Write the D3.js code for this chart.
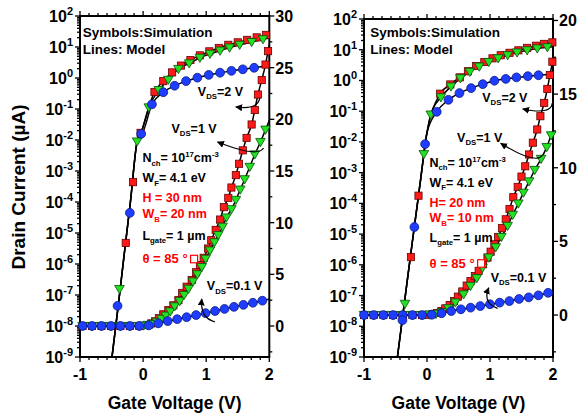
<!DOCTYPE html>
<html><head><meta charset="utf-8">
<script src="https://cdn.jsdelivr.net/npm/d3@7"></script>
<style>
body{margin:0;background:#fff}
svg{display:block}
text{font-family:"Liberation Sans",Arial,sans-serif;font-weight:bold}
</style>
</head><body>
<svg id="c" width="584" height="417"></svg>
<script>
// ---------- shared axis data ----------
const xTicks = [-1, 0, 1, 2];
const logTickExps = [-9, -8, -7, -6, -5, -4, -3, -2, -1, 0, 1, 2];
const linTicksLeft = [0, 5, 10, 15, 20, 25, 30];
const linTicksRight = [0, 5, 10, 15, 20];

// ---------- left panel (H = 30 nm, WB = 20 nm) ----------
// log curves: [Vg, log10(I / uA)]
const p1SubLog = [[-0.52,-9.45],[-0.40,-7.45],[-0.30,-5.7],[-0.20,-3.98],[-0.095,-2.05],[-0.035,-1.78]];
const p1LogRed = [[-0.275,-5.32],[-0.16,-3.36],[-0.04,-1.77],[0.18,-0.45],[0.32,-0.10],[0.46,0.18],[0.60,0.40],[0.75,0.58],[0.90,0.73],[1.05,0.86],[1.20,0.97],[1.35,1.07],[1.50,1.15],[1.65,1.23],[1.80,1.31],[1.95,1.39]];
const p1LogGreen = [[-0.375,-6.81],[-0.095,-2.05],[0.09,-0.95],[0.25,-0.39],[0.40,-0.06],[0.56,0.29],[0.73,0.47],[0.90,0.65],[1.06,0.78],[1.22,0.88],[1.37,0.98],[1.53,1.07],[1.72,1.16],[1.90,1.25]];
const p1LogBlue = [[-0.405,-7.35],[-0.21,-4.35],[-0.03,-1.80],[0.14,-0.85],[0.32,-0.46],[0.50,-0.25],[0.68,-0.10],[0.86,0.01],[1.04,0.10],[1.22,0.17],[1.40,0.23],[1.58,0.28],[1.76,0.33]];
const p1LogEnd = [1.43, 1.29, 0.40];           // model value at Vg = 2 V (red, green, blue)
// linear curves: [Vg, I (uA)] on the right axis
const p1LinRed = [[-0.96,0],[-0.81,0],[-0.66,0],[-0.51,0],[-0.36,0],[-0.21,0],[-0.06,0],[0.06,0.1],[0.13,0.25],[0.19,0.45],[0.25,0.75],[0.32,1.13],[0.40,1.55],[0.48,2.0],[0.56,2.5],[0.62,3.2],[0.69,3.8],[0.77,4.45],[0.84,5.2],[0.90,5.9],[0.96,6.6],[1.03,7.5],[1.08,8.3],[1.15,9.3],[1.22,10.3],[1.28,11.5],[1.35,12.4],[1.40,13.4],[1.47,14.6],[1.52,15.7],[1.58,17.0],[1.64,18.2],[1.72,19.5],[1.77,20.9],[1.82,22.4],[1.88,23.8],[1.94,25.3],[1.98,26.6]];
const p1LinGreen = [[-0.96,0],[-0.81,0],[-0.66,0],[-0.51,0],[-0.36,0],[-0.21,0],[-0.06,0],[0.01,0.04],[0.08,0.1],[0.15,0.2],[0.22,0.4],[0.29,0.7],[0.36,1.0],[0.43,1.4],[0.50,1.9],[0.58,2.4],[0.65,3.0],[0.72,3.6],[0.79,4.3],[0.86,5.0],[0.93,5.7],[0.99,6.5],[1.06,7.3],[1.13,8.1],[1.19,8.8],[1.26,9.6],[1.32,10.5],[1.40,11.3],[1.47,12.2],[1.54,13.2],[1.61,14.2],[1.69,15.4],[1.77,16.6],[1.86,17.8],[1.94,19.0]];
const p1LinBlue = [[-0.96,0],[-0.81,0],[-0.66,0],[-0.51,0],[-0.36,0],[-0.21,0],[-0.06,0],[0.09,0.06],[0.24,0.26],[0.39,0.48],[0.54,0.66],[0.69,0.85],[0.84,1.06],[0.99,1.24],[1.14,1.45],[1.29,1.65],[1.44,1.85],[1.59,2.05],[1.74,2.25],[1.89,2.45]];
const p1LinEnd = [27.2, 19.9, 2.6];

// ---------- right panel (H = 20 nm, WB = 10 nm) ----------
const p2SubLog = [[-0.52,-9.8],[-0.40,-7.9],[-0.30,-6.3],[-0.20,-4.75],[-0.10,-3.2],[-0.05,-2.4],[-0.03,-2.07],[0.0,-1.7]];
const p2LogRed = [[-0.255,-5.75],[-0.135,-3.75],[0.21,-0.43],[0.37,-0.13],[0.52,0.10],[0.65,0.30],[0.78,0.47],[0.91,0.60],[1.04,0.72],[1.17,0.82],[1.31,0.90],[1.45,0.98],[1.59,1.06],[1.73,1.13],[1.86,1.19],[1.99,1.24]];
const p2LogGreen = [[-0.35,-7.27],[-0.05,-2.4],[0.06,-1.11],[0.22,-0.55],[0.38,-0.20],[0.53,0.07],[0.68,0.28],[0.83,0.45],[0.98,0.60],[1.13,0.72],[1.28,0.82],[1.43,0.91],[1.59,0.98],[1.75,1.04],[1.91,1.08]];
const p2LogBlue = [[-0.39,-7.8],[-0.20,-4.77],[-0.03,-2.07],[0.155,-1.02],[0.34,-0.63],[0.515,-0.41],[0.70,-0.25],[0.885,-0.12],[1.07,-0.01],[1.25,0.05],[1.42,0.10],[1.60,0.14],[1.77,0.17]];
const p2LogEnd = [1.25, 1.10, 0.20];
const p2LinRed = [[-1.0,0],[-0.846,0],[-0.692,0],[-0.538,0],[-0.385,0],[-0.231,0],[-0.077,0],[0.03,0.02],[0.09,0.06],[0.16,0.14],[0.23,0.27],[0.29,0.45],[0.36,0.68],[0.43,0.95],[0.49,1.25],[0.56,1.6],[0.63,2.0],[0.69,2.3],[0.76,2.65],[0.82,3.0],[0.89,3.45],[0.96,3.9],[1.01,4.3],[1.07,4.8],[1.13,5.3],[1.19,5.9],[1.25,6.5],[1.31,7.2],[1.37,8.0],[1.44,8.7],[1.50,9.4],[1.56,10.1],[1.62,10.9],[1.68,11.7],[1.75,12.6],[1.80,13.5],[1.86,14.4],[1.91,15.35],[1.95,16.3],[1.99,17.2]];
const p2LinGreen = [[-1.0,0],[-0.846,0],[-0.692,0],[-0.538,0],[-0.385,0],[-0.231,0],[-0.077,0],[0.04,0.03],[0.14,0.08],[0.24,0.2],[0.34,0.45],[0.45,0.85],[0.58,1.4],[0.69,1.97],[0.79,2.5],[0.88,3.2],[0.98,3.9],[1.09,4.6],[1.18,5.3],[1.28,6.05],[1.36,6.8],[1.45,7.57],[1.53,8.3],[1.62,9.07],[1.71,9.85],[1.81,10.6],[1.90,11.4],[1.97,12.2]];
const p2LinBlue = [[-1.0,0],[-0.846,0],[-0.692,0],[-0.538,0],[-0.385,0],[-0.231,0],[-0.077,0],[0.077,0.02],[0.231,0.12],[0.385,0.27],[0.538,0.39],[0.692,0.5],[0.846,0.61],[1.0,0.73],[1.154,0.84],[1.308,0.95],[1.462,1.09],[1.615,1.2],[1.769,1.34],[1.923,1.51]];
const p2LinEnd = [17.6, 12.5, 1.6];

// ---------- annotations (positions in [Vg, right-axis uA]) ----------
const p1Params = ["10", "4.1 eV", "30 nm", "20 nm", "1 \u00b5m", "85"];
const p2Params = ["10", "4.1 eV", "20 nm", "10 nm", "1 \u00b5m", "85"];
const p1TextPos = [[-0.955,28.0],[-0.955,26.3],[0.867,22.3],[0.45,18.7],[-0.01,15.85],[-0.01,13.9],[-0.01,11.97],[-0.01,10.43],[-0.01,8.33],[-0.01,6.07],[1.01,3.48]];
const p2TextPos = [[-0.9,18.85],[-0.9,17.7],[0.877,14.48],[0.478,11.77],[0.04,10.07],[0.04,8.71],[0.04,7.35],[0.04,6.29],[0.04,4.98],[0.04,3.21],[1.01,2.26]];
const p1Arrows = [[[1.85,22.07],[1.82,20.9],[1.47,21.2]],[[1.91,17.23],[1.82,16.26],[1.18,17.8]],[[1.14,0.39],[0.90,0.77],[0.93,2.61]]];
const p2Arrows = [[[1.99,14.39],[1.97,13.58],[1.52,13.99]],[[1.83,10.86],[1.73,10.18],[1.17,11.66]],[[1.12,0.45],[0.88,0.81],[0.98,1.85]]];

const RED = "#ff1a1a", GREEN = "#22e022", BLUE = "#1f3dff";
const svg = d3.select("#c");
const defs = svg.append("defs");
defs.append("marker").attr("id","ah").attr("viewBox","0 0 10 10").attr("refX",9).attr("refY",5)
  .attr("markerWidth",7).attr("markerHeight",7).attr("orient","auto-start-reverse").attr("markerUnits","userSpaceOnUse")
  .append("path").attr("d","M0,0L10,5L0,10z").attr("fill","#000");

function rich(g, x, y, segs, size, color){
  const t = g.append("text").attr("x", x).attr("y", y).attr("font-size", size).attr("fill", color);
  let shift = 0;
  segs.forEach(s => {
    const target = s.sub ? 3.5 : s.sup ? -5 : 0;
    t.append("tspan").attr("dy", target - shift)
      .attr("font-size", (s.sub || s.sup) ? size * 0.62 : size).text(s.t);
    shift = target;
  });
  return t;
}

function panel(o){
  const x = d3.scaleLinear().domain([-1, 2]).range([o.x0, o.x1]);
  const yL = d3.scaleLog().domain([1e-9, 1e2]).range([o.yb, o.yt]);
  const yR = d3.scaleLinear().domain(o.linDomain).range([o.yb, o.yt]);
  const g = svg.append("g");
  const cid = "clip" + o.id;
  defs.append("clipPath").attr("id", cid).append("rect")
    .attr("x", o.x0).attr("y", o.yt).attr("width", o.x1 - o.x0).attr("height", o.yb - o.yt);

  const tick = (x1, y1, x2, y2) => g.append("line").attr("x1",x1).attr("y1",y1).attr("x2",x2).attr("y2",y2)
      .attr("stroke","#000").attr("stroke-width",1.3);

  // bottom & top ticks
  xTicks.forEach(v => { tick(x(v), o.yb, x(v), o.yb + 5); tick(x(v), o.yt, x(v), o.yt - 5); });
  d3.range(-1, 2, 1).forEach(base => {
    for (let k = 1; k < 7; k++) { const v = base + k / 7; tick(x(v), o.yb, x(v), o.yb + 3); tick(x(v), o.yt, x(v), o.yt - 3); }
  });
  xTicks.forEach(v => g.append("text").attr("x", x(v)).attr("y", o.yb + 23).attr("text-anchor","middle")
      .attr("font-size",16).text(v));

  // left log axis
  logTickExps.forEach(e => {
    tick(o.x0 - 5, yL(10 ** e), o.x0, yL(10 ** e));
    if (e < 2) for (let m = 2; m < 10; m++) tick(o.x0 - 3, yL(m * 10 ** e), o.x0, yL(m * 10 ** e));
    const t = g.append("text").attr("x", o.x0 - 7).attr("y", yL(10 ** e) + 6).attr("text-anchor","end").attr("font-size",16);
    t.append("tspan").text("10");
    t.append("tspan").attr("dy",-7).attr("font-size",11).text(e);
  });

  // right linear axis
  o.linTicks.forEach(v => {
    tick(o.x1, yR(v), o.x1 + 5, yR(v));
    g.append("text").attr("x", o.x1 + 6).attr("y", yR(v) + 6).attr("font-size",16).text(v);
  });
  d3.range(-2.5, o.linDomain[1], 5).forEach(v => tick(o.x1, yR(v), o.x1 + 3, yR(v)));

  // frame
  g.append("rect").attr("x", o.x0).attr("y", o.yt).attr("width", o.x1 - o.x0).attr("height", o.yb - o.yt)
    .attr("fill","none").attr("stroke","#000").attr("stroke-width",2);

  // axis title
  g.append("text").attr("x", (o.x0 + o.x1) / 2).attr("y", 409).attr("text-anchor","middle").attr("font-size",17.5)
    .text("Gate Voltage (V)");

  // model lines
  const lines = g.append("g").attr("clip-path", `url(#${cid})`);
  const logLine = d3.line().x(d => x(d[0])).y(d => yL(10 ** d[1])).curve(d3.curveMonotoneX);
  const linLine = d3.line().x(d => x(d[0])).y(d => yR(d[1])).curve(d3.curveMonotoneX);
  const subEnd = o.sub[o.sub.length - 1][0];
  o.log.forEach((s, i) => {
    const pts = o.sub.concat(s.filter(p => p[0] > subEnd), [[2, o.logEnd[i]]]);
    lines.append("path").attr("d", logLine(pts)).attr("fill","none").attr("stroke","#000").attr("stroke-width",1.5);
  });
  o.lin.forEach((s, i) => {
    const pts = s.concat([[2, o.linEnd[i]]]);
    lines.append("path").attr("d", linLine(pts)).attr("fill","none").attr("stroke","#000").attr("stroke-width",1.5);
  });

  // symbols
  const mk = g.append("g");
  function draw(data, kind, yf){
    const sel = mk.selectAll(null).data(data).enter();
    if (kind === 0) sel.append("rect").attr("x", d => x(d[0]) - 3.6).attr("y", d => yf(d) - 3.6)
        .attr("width", 7.2).attr("height", 7.2).attr("fill", RED).attr("stroke", "#6a0000").attr("stroke-width", 0.8);
    if (kind === 1) sel.append("path").attr("transform", d => `translate(${x(d[0])},${yf(d)})`)
        .attr("d", "M-4.8,-3.6L4.8,-3.6L0,4.6Z").attr("fill", GREEN).attr("stroke", "#0b500b").attr("stroke-width", 0.8);
    if (kind === 2) sel.append("circle").attr("cx", d => x(d[0])).attr("cy", yf).attr("r", 4.4)
        .attr("fill", BLUE).attr("stroke", "#0a1a80").attr("stroke-width", 0.8);
  }
  const fL = d => yL(10 ** d[1]), fR = d => yR(d[1]);
  [0, 1, 2].forEach(i => { draw(o.lin[i], i, fR); draw(o.log[i], i, fL); });

  // annotations
  const P = o.textPos.map(p => [x(p[0]), yR(p[1])]);
  const an = g.append("g");
  an.append("text").attr("x", P[0][0]).attr("y", P[0][1]).attr("font-size", 13.5).text("Symbols:Simulation");
  an.append("text").attr("x", P[1][0]).attr("y", P[1][1]).attr("font-size", 13.5).text("Lines: Model");
  rich(an, P[2][0], P[2][1], [{t:"V"},{t:"DS",sub:1},{t:"=2 V"}], 12.5, "#000");
  rich(an, P[3][0], P[3][1], [{t:"V"},{t:"DS",sub:1},{t:"=1 V"}], 12.5, "#000");
  rich(an, P[4][0], P[4][1], [{t:"N"},{t:"ch",sub:1},{t:"= " + o.params[0]},{t:"17",sup:1},{t:"cm"},{t:"-3",sup:1}], 12.5, "#000");
  rich(an, P[5][0], P[5][1], [{t:"W"},{t:"F",sub:1},{t:"= " + o.params[1]}], 12.5, "#000");
  an.append("text").attr("x", P[6][0]).attr("y", P[6][1]).attr("font-size", 12.5).attr("fill", "#ff0000").text(o.hLabel + o.params[2]);
  rich(an, P[7][0], P[7][1], [{t:"W"},{t:"B",sub:1},{t:"= " + o.params[3]}], 12.5, "#ff0000");
  rich(an, P[8][0], P[8][1], [{t:"L"},{t:"gate",sub:1},{t:"= " + o.params[4]}], 12.5, "#000");
  const th = an.append("text").attr("x", P[9][0]).attr("y", P[9][1]).attr("font-size", 13).attr("fill", "#ff0000")
    .text("\u03b8 = " + o.params[5] + " \u00b0");
  const tw = th.node().getComputedTextLength();
  an.append("rect").attr("x", P[9][0] + tw + 3).attr("y", P[9][1] - 8).attr("width", 7).attr("height", 7.5)
    .attr("fill", "#fff").attr("stroke", "#ff0000").attr("stroke-width", 1.2);
  rich(an, P[10][0], P[10][1], [{t:"V"},{t:"DS",sub:1},{t:"=0.1 V"}], 12.5, "#000");

  o.arrows.forEach(a => {
    const [s, c, e] = a.map(p => [x(p[0]), yR(p[1])]);
    an.append("path").attr("d", `M${s[0]},${s[1]}Q${c[0]},${c[1]} ${e[0]},${e[1]}`)
      .attr("fill","none").attr("stroke","#000").attr("stroke-width",1.2).attr("marker-end","url(#ah)");
  });
}

panel({id:1, x0:80, x1:269.3, yt:16, yb:357, linDomain:[-3,30], linTicks:linTicksLeft,
  sub:p1SubLog, log:[p1LogRed,p1LogGreen,p1LogBlue], logEnd:p1LogEnd,
  lin:[p1LinRed,p1LinGreen,p1LinBlue], linEnd:p1LinEnd,
  textPos:p1TextPos, arrows:p1Arrows, params:p1Params, hLabel:"H = "});
panel({id:2, x0:364, x1:553, yt:19, yb:357, linDomain:[-2.85,20.1], linTicks:linTicksRight,
  sub:p2SubLog, log:[p2LogRed,p2LogGreen,p2LogBlue], logEnd:p2LogEnd,
  lin:[p2LinRed,p2LinGreen,p2LinBlue], linEnd:p2LinEnd,
  textPos:p2TextPos, arrows:p2Arrows, params:p2Params, hLabel:"H= "});

svg.append("text").attr("transform","translate(25,187) rotate(-90)").attr("text-anchor","middle")
  .attr("font-size",19).text("Drain Current (\u00b5A)");
</script>
</body></html>
